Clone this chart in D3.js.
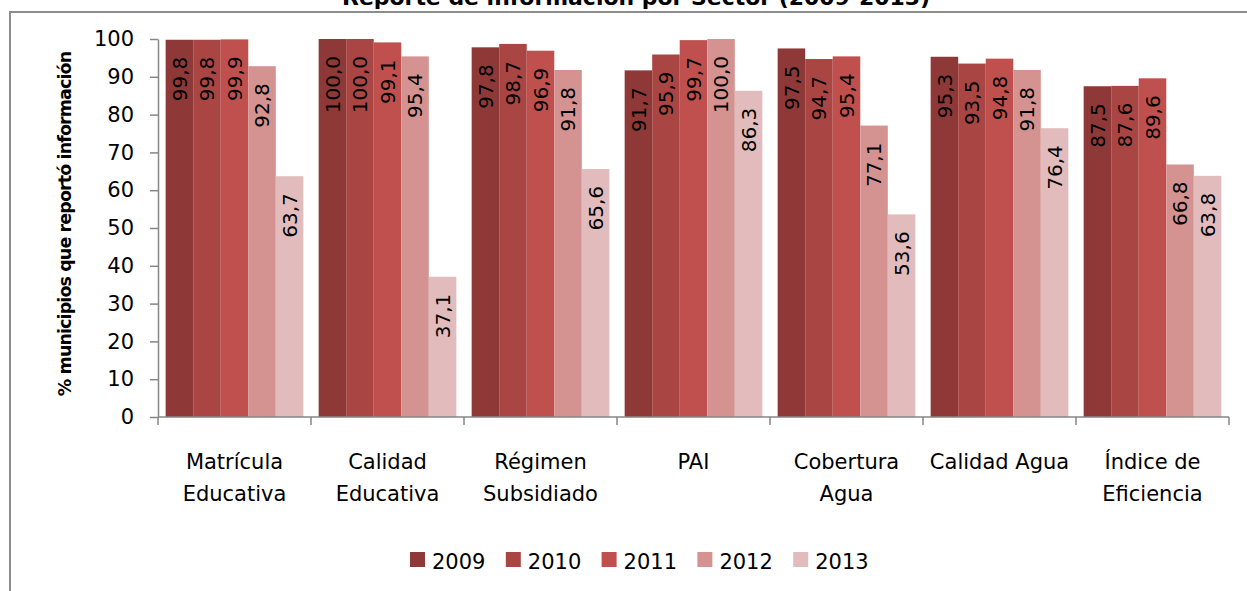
<!DOCTYPE html>
<html>
<head>
<meta charset="utf-8">
<script src="https://cdn.jsdelivr.net/npm/d3@7"></script>
<style>
  body { margin: 0; background: #fff; }
  text { font-family: "DejaVu Sans", sans-serif; fill: #000; }
</style>
</head>
<body>
<svg id="chart" width="1247" height="591"></svg>
<script>
// data
var sectores = [
    ["Matrícula", "Educativa"],
    ["Calidad", "Educativa"],
    ["Régimen", "Subsidiado"],
    ["PAI"],
    ["Cobertura", "Agua"],
    ["Calidad Agua"],
    ["Índice de", "Eficiencia"]
];
var anios = ["2009", "2010", "2011", "2012", "2013"];
var v2009 = [99.8, 100.0, 97.8, 91.7, 97.5, 95.3, 87.5];
var v2010 = [99.8, 100.0, 98.7, 95.9, 94.7, 93.5, 87.6];
var v2011 = [99.9, 99.1, 96.9, 99.7, 95.4, 94.8, 89.6];
var v2012 = [92.8, 95.4, 91.8, 100.0, 77.1, 91.8, 66.8];
var v2013 = [63.7, 37.1, 65.6, 86.3, 53.6, 76.4, 63.8];
var yTicks = [0, 10, 20, 30, 40, 50, 60, 70, 80, 90, 100];

var series = [v2009, v2010, v2011, v2012, v2013];
var colores = ["#8e3937", "#a94644", "#c0504d", "#d49391", "#e2bcbc"];
var ejeColor = "#868686";

var svg = d3.select("#chart");

// frame of the chart area
svg.append("rect")
    .attr("x", 10).attr("y", 12)
    .attr("width", 1260).attr("height", 620)
    .attr("fill", "none")
    .attr("stroke", "#8c8c8c")
    .attr("stroke-width", 2);

// title, clipped at the top like the original
svg.append("text")
    .attr("x", 636).attr("y", 5)
    .attr("text-anchor", "middle")
    .attr("font-size", 22)
    .attr("font-weight", "bold")
    .attr("textLength", 588)
    .attr("lengthAdjust", "spacingAndGlyphs")
    .text("Reporte de información por Sector (2009-2013)");

var x0 = d3.scaleBand()
    .domain(d3.range(sectores.length))
    .range([158, 1229])
    .paddingInner(0.1)
    .paddingOuter(0.05);

var x1 = d3.scaleBand()
    .domain(anios)
    .range([0, x0.bandwidth()]);

var y = d3.scaleLinear().domain([0, 100]).range([417, 39]);

var fmt = function(v){ return d3.format(".1f")(v).replace(".", ","); };

// bars
var grupos = svg.append("g").selectAll("g")
    .data(d3.range(sectores.length))
    .enter()
    .append("g")
    .attr("transform", function(i){ return "translate(" + x0(i) + ",0)"; });

grupos.selectAll("rect")
    .data(function(i){ return anios.map(function(a, k){ return {anio: a, k: k, v: series[k][i]}; }); })
    .enter()
    .append("rect")
    .attr("x", function(d){ return x1(d.anio); })
    .attr("y", function(d){ return y(d.v); })
    .attr("width", x1.bandwidth())
    .attr("height", function(d){ return y(0) - y(d.v); })
    .attr("fill", function(d){ return colores[d.k]; });

// value labels, rotated, inside end
grupos.selectAll("text")
    .data(function(i){ return anios.map(function(a, k){ return {anio: a, k: k, v: series[k][i]}; }); })
    .enter()
    .append("text")
    .attr("transform", function(d){
        return "translate(" + (x1(d.anio) + x1.bandwidth() / 2) + "," + (y(d.v) + 17) + ") rotate(-90)";
    })
    .attr("text-anchor", "end")
    .attr("dy", "0.36em")
    .attr("font-size", 20)
    .text(function(d){ return fmt(d.v); });

// y axis
var yAxis = svg.append("g")
    .attr("transform", "translate(158,0)")
    .call(d3.axisLeft(y).tickValues(yTicks).tickSize(8).tickSizeOuter(0).tickPadding(16));
yAxis.selectAll("text").attr("font-size", 21).attr("font-family", "DejaVu Sans");
yAxis.selectAll("line, path").attr("stroke", ejeColor).attr("stroke-width", 1.5);

// x axis with ticks between categories
var xAxis = svg.append("g");
xAxis.append("line")
    .attr("x1", x0.range()[0]).attr("x2", x0.range()[1])
    .attr("y1", y(0)).attr("y2", y(0))
    .attr("stroke", ejeColor).attr("stroke-width", 1.5);
xAxis.selectAll("line.tick")
    .data(d3.range(sectores.length + 1))
    .enter()
    .append("line")
    .attr("class", "tick")
    .attr("x1", function(i){ return x0.range()[0] + i * x0.step(); })
    .attr("x2", function(i){ return x0.range()[0] + i * x0.step(); })
    .attr("y1", y(0)).attr("y2", y(0) + 8)
    .attr("stroke", ejeColor).attr("stroke-width", 1.5);

var cat = svg.append("g").selectAll("text")
    .data(sectores)
    .enter()
    .append("text")
    .attr("text-anchor", "middle")
    .attr("font-size", 21)
    .attr("x", function(d, i){ return x0(i) + x0.bandwidth() / 2; })
    .attr("y", 469);
cat.selectAll("tspan")
    .data(function(d){ return d; })
    .enter()
    .append("tspan")
    .attr("x", function(){ return d3.select(this.parentNode).attr("x"); })
    .attr("dy", function(d, j){ return j === 0 ? 0 : 32; })
    .text(function(d){ return d; });

// y axis title
svg.append("text")
    .attr("transform", "translate(71,224) rotate(-90)")
    .attr("text-anchor", "middle")
    .attr("font-size", 17.5)
    .attr("font-weight", "bold")
    .attr("letter-spacing", -0.9)
    .text("% municipios que reportó información");

// legend
var leyenda = svg.append("g").selectAll("g")
    .data(anios)
    .enter()
    .append("g")
    .attr("transform", function(d, i){ return "translate(" + (410 + i * 95.8) + ",552)"; });
leyenda.append("rect")
    .attr("width", 15).attr("height", 15)
    .attr("fill", function(d, i){ return colores[i]; });
leyenda.append("text")
    .attr("x", 22).attr("y", 17)
    .attr("font-size", 21)
    .text(function(d){ return d; });
</script>
</body>
</html>
